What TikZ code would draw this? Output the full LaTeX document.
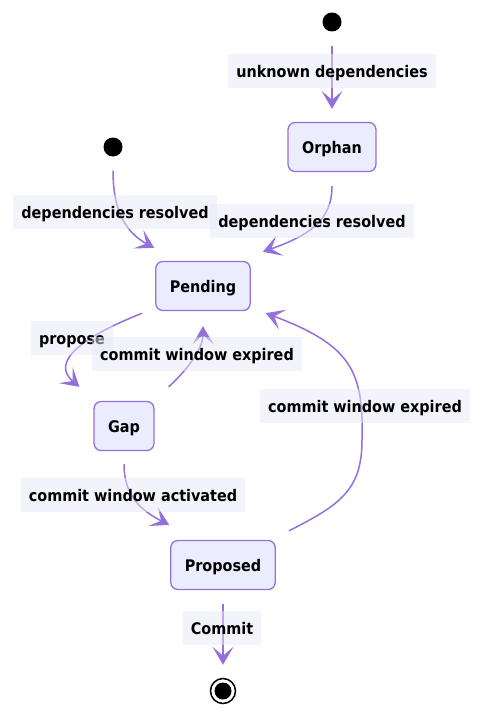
\documentclass[tikz,border=0pt]{standalone}
\usepackage{fontspec}
\setmainfont{DejaVu Sans Condensed}
\usetikzlibrary{arrows.meta}
\definecolor{edgepurple}{HTML}{9370DB}
\definecolor{statefill}{HTML}{ECECFF}
\definecolor{labelfill}{HTML}{E8E8F8}
\begin{document}
\begin{tikzpicture}[x=1pt, y=-1pt,
		state/.style={rectangle, rounded corners=7pt, draw=edgepurple, fill=statefill, line width=1.3pt, minimum height=49pt, inner xsep=14pt, text height=13pt, text depth=0pt, font=\bfseries\fontsize{16}{19}\selectfont},
		lbl/.style={fill=labelfill, fill opacity=0.5, text opacity=1, minimum height=34pt, inner xsep=8pt, text height=13pt, text depth=0pt, font=\bfseries\fontsize{16}{19}\selectfont},
		init/.style={circle, fill=black, minimum size=19pt, inner sep=0pt},
		trans/.style={draw=edgepurple, line width=1.5pt, -{Stealth[length=18pt, width=21pt, inset=9pt]}}]
		  \useasboundingbox (0,0) rectangle (485,717);
		  \node[init] (s1) at (332,22) {};
		  \node[init] (s2) at (113,147) {};
		  \node[state] (orphan) at (332,147) {Orphan};
		  \node[state] (pending) at (203,286) {Pending};
		  \node[state] (gap) at (124,426) {Gap};
		  \node[state] (proposed) at (223,565) {Proposed};
		  \node[circle, draw=black, line width=1.5pt, fill=white, minimum size=25pt, inner sep=0pt, path picture={\fill[black] (path picture bounding box.center) circle (8.5pt);}] (end) at (223,691) {};
		  
		  \draw[trans] ([shift={(0,14)}]s1.south) -- ([shift={(0,-13)}]orphan.north);
		  \draw[trans] ([shift={(0,14)}]s2.south) .. controls (113,210) and (125,232) .. ([shift={(-1,-13)}]pending.north west);
		  \draw[trans] ([shift={(0,14)}]orphan.south) .. controls (332,220) and (310,235) .. ([shift={(12,-9)}]pending.north east);
		  \draw[trans] ([shift={(-13,2)}]pending.south west) .. controls (50,350) and (62,372) .. ([shift={(-14,-14)}]gap.north west);
		  \draw[trans] ([shift={(14,-14)}]gap.north east) .. controls (185,372) and (203,350) .. ([shift={(0,15)}]pending.south);
		  \draw[trans] ([shift={(0,13)}]gap.south) .. controls (124,495) and (140,510) .. ([shift={(-1,-15)}]proposed.north west);
		  \draw[trans] ([shift={(13,-9)}]proposed.north east) .. controls (340,505) and (362,490) .. (362,440) .. controls (364,370) and (350,345) .. ([shift={(15,2)}]pending.south east);
		  \draw[trans] ([shift={(0,14)}]proposed.south) -- ([shift={(0,-13)}]end.north);
		  
		  \node[lbl] (l1) at (332,71) {unknown dependencies};
		  \node[lbl] (l2) at (115,212) {dependencies resolved};
		  \node[lbl] (l3) at (312,221) {dependencies resolved};
		  \node[lbl] (l4) at (72,338) {propose};
		  \node[lbl] (l5) at (197,354) {commit window expired};
		  \node[lbl] (l6) at (365,406) {commit window expired};
		  \node[lbl] (l7) at (133,495) {commit window activated};
		  \node[lbl] (l8) at (222,628) {Commit};
		\end{tikzpicture}
\end{document}
